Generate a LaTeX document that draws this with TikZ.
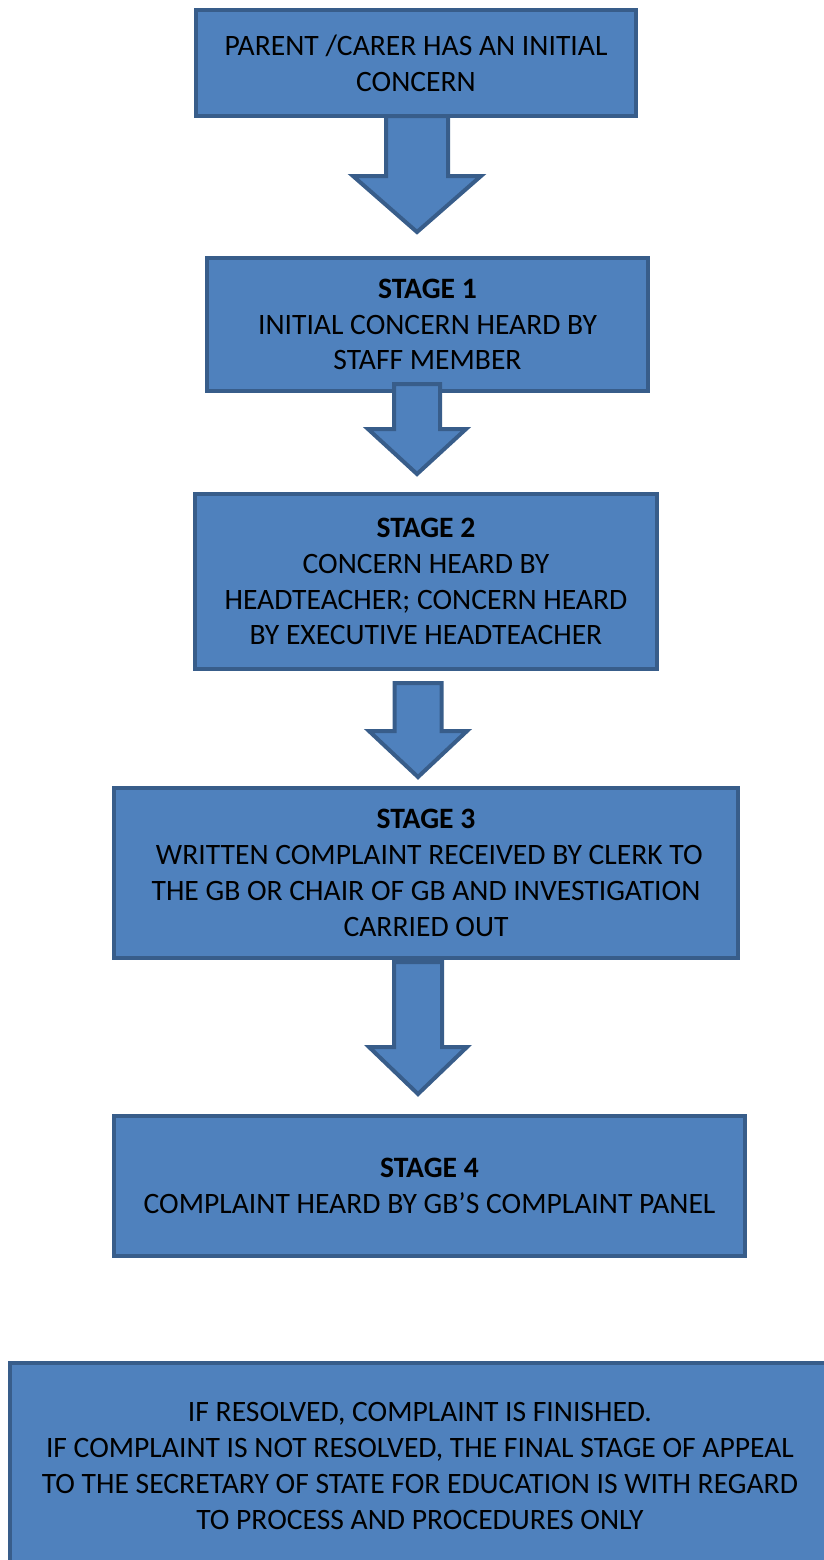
\documentclass[tikz,border=0pt]{standalone}
\usepackage{fontspec}
\setmainfont{Carlito}
\definecolor{boxfill}{HTML}{4F81BD}
\definecolor{boxline}{HTML}{385D8A}
\tikzset{
  flowbox/.style={draw=boxline, fill=boxfill, line width=2pt, inner sep=0pt, outer sep=0pt,
    align=center, font=\fontsize{14.8}{17.9}\selectfont, text=black},
  blockarr/.style={draw=boxline, fill=boxfill, line width=2pt, line join=miter}
}
\newcommand\blockarrow[6]{%
  \draw[blockarr] (#1-#5,#2) -- (#1-#5,#3) -- (#1-#6,#3) -- (#1,#4) -- (#1+#6,#3) -- (#1+#5,#3) -- (#1+#5,#2) -- cycle;}
\begin{document}
\begin{tikzpicture}[x=0.5pt,y=-0.5pt]
\useasboundingbox (0,0) rectangle (824,1560);
\node[flowbox, minimum width=220pt, minimum height=53pt] (b1) at (416,63)
  {PARENT /CARER HAS AN INITIAL\\CONCERN};
\node[flowbox, minimum width=220.5pt, minimum height=66.5pt] (b2) at (427.5,324.5)
  {\textbf{STAGE 1}\\INITIAL CONCERN HEARD BY\\STAFF MEMBER};
\node[flowbox, minimum width=231pt, minimum height=87.5pt] (b3) at (426,581.5)
  {\textbf{STAGE 2}\\CONCERN HEARD BY\\HEADTEACHER; CONCERN HEARD\\BY EXECUTIVE HEADTEACHER};
\node[flowbox, minimum width=312pt, minimum height=85pt] (b4) at (426,873)
  {\textbf{STAGE 3}\\\ WRITTEN COMPLAINT RECEIVED BY CLERK TO\\THE GB OR CHAIR OF GB AND INVESTIGATION\\CARRIED OUT};
\node[flowbox, minimum width=315.5pt, minimum height=70pt] (b5) at (429.5,1186)
  {\textbf{STAGE 4}\\COMPLAINT HEARD BY GB’S COMPLAINT PANEL};
\node[flowbox, minimum width=410pt, minimum height=103pt] (b6) at (420,1466)
  {IF RESOLVED, COMPLAINT IS FINISHED.\\IF COMPLAINT IS NOT RESOLVED, THE FINAL STAGE OF APPEAL\\TO THE SECRETARY OF STATE FOR EDUCATION IS WITH REGARD\\TO PROCESS AND PROCEDURES ONLY};
% block arrows
\blockarrow{417}{116}{176}{232}{31}{64}
\blockarrow{417}{384}{429}{474}{23}{49}
\blockarrow{418}{683}{731}{777}{23.5}{49}
\blockarrow{418}{962}{1047}{1094}{24}{49}
\end{tikzpicture}
\end{document}
